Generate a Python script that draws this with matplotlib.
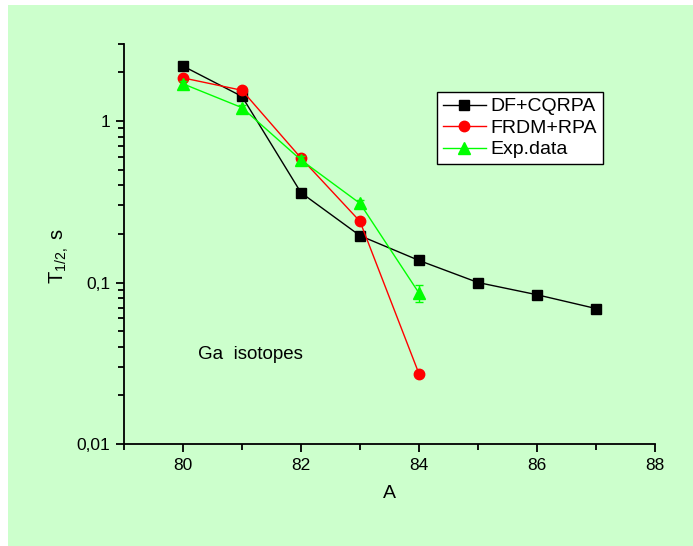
import matplotlib
matplotlib.use("Agg")
import matplotlib.pyplot as plt
from matplotlib.patches import Rectangle
from matplotlib.lines import Line2D
from matplotlib.ticker import FixedLocator, LogLocator, NullFormatter, MultipleLocator

plt.rcParams['font.family'] = ['Liberation Sans', 'DejaVu Sans']
plt.rcParams['mathtext.fontset'] = 'custom'
plt.rcParams['mathtext.rm'] = 'Liberation Sans'

# data
A_df = [80, 81, 82, 83, 84, 85, 86, 87]
T_df = [2.19, 1.42, 0.36, 0.195, 0.137, 0.100, 0.084, 0.069]

A_frdm = [80, 81, 82, 83, 84]
T_frdm = [1.85, 1.55, 0.59, 0.239, 0.0272]

A_exp = [80, 81, 82, 83, 84]
T_exp = [1.70, 1.21, 0.574, 0.309, 0.086]
T_exp_err = [0.08, 0.05, 0.03, 0.015, 0.010]

ytick_vals = [0.01, 0.1, 1]
ytick_labels = ["0,01", "0,1", "1"]
xtick_vals = [80, 82, 84, 86, 88]

W, H = 693, 546
bg = '#CCFFCC'
fig = plt.figure(figsize=(W / 100, H / 100), dpi=100, facecolor=bg)
# white strips on the left and top edges
fig.patches.append(Rectangle((0, 0), 8 / W, 1, transform=fig.transFigure,
                             facecolor='white', edgecolor='none', zorder=-10))
fig.patches.append(Rectangle((0, 1 - 5 / H), 1, 5 / H, transform=fig.transFigure,
                             facecolor='white', edgecolor='none', zorder=-10))

ax = fig.add_axes([124 / W, 1 - 444 / H, (655 - 124) / W, (444 - 44) / H])
ax.set_facecolor('none')

green = '#00FF00'
ax.plot(A_df, T_df, color='black', lw=1.0, marker='s', ms=7, mfc='black', mec='black', zorder=3)
ax.plot(A_frdm, T_frdm, color='#FF0000', lw=1.0, marker='o', ms=7.5, mfc='#FF0000', mec='#FF0000', zorder=4)
ax.errorbar(A_exp, T_exp, yerr=T_exp_err, color=green, lw=1.0, marker='^', ms=8,
            mfc=green, mec=green, ecolor=green, elinewidth=1.0, capsize=3,
            capthick=1.0, zorder=5)

ax.set_yscale('log')
ax.set_xlim(79, 88)
ax.set_ylim(0.01, 3)

ax.yaxis.set_major_locator(FixedLocator(ytick_vals))
ax.set_yticklabels(ytick_labels)
ax.yaxis.set_minor_locator(LogLocator(base=10, subs=range(2, 10)))
ax.yaxis.set_minor_formatter(NullFormatter())
ax.set_xticks(xtick_vals)
ax.xaxis.set_minor_locator(MultipleLocator(1))

for s in ['top', 'right']:
    ax.spines[s].set_visible(False)
for s in ['left', 'bottom']:
    ax.spines[s].set_linewidth(1.3)

ax.tick_params(axis='both', which='major', direction='out', length=6, width=1.3, labelsize=12.5, pad=4)
ax.tick_params(axis='both', which='minor', direction='out', length=4, width=1.3)

ax.set_xlabel('A', fontsize=14, labelpad=9)
ax.set_ylabel(r'T$_{1/2,}$ s', fontsize=14.5, labelpad=4)
ax.yaxis.set_label_coords(-0.10, 0.47)

ax.text(80.25, 0.036, 'Ga  isotopes', fontsize=13.5, ha='left', va='center')

handles = [
    Line2D([], [], color='black', lw=1.0, marker='s', ms=7, mfc='black', mec='black'),
    Line2D([], [], color='#FF0000', lw=1.0, marker='o', ms=7.5, mfc='#FF0000', mec='#FF0000'),
    Line2D([], [], color=green, lw=1.0, marker='^', ms=8, mfc=green, mec=green),
]
labels = ['DF+CQRPA', 'FRDM+RPA', 'Exp.data']
leg = ax.legend(handles, labels, loc='upper left', bbox_to_anchor=(437 / W, 1 - 92 / H),
                bbox_transform=fig.transFigure,
                fontsize=14, frameon=True, fancybox=False, edgecolor='black', facecolor='white',
                framealpha=1, borderpad=0.3, labelspacing=0.2, handlelength=2.2, handletextpad=0.25,
                borderaxespad=0)
leg.get_frame().set_linewidth(1.0)

fig.savefig('out.png', dpi=100, facecolor=fig.get_facecolor())
